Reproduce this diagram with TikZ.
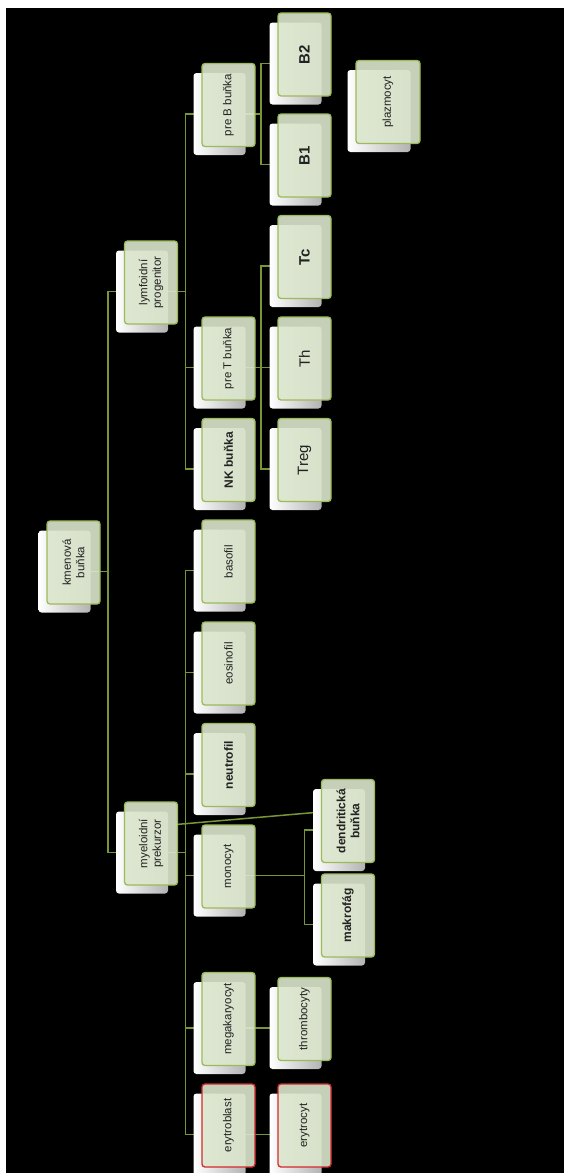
\documentclass[tikz,border=0pt]{standalone}
\usepackage{fontspec}
\setmainfont{Liberation Sans}
\definecolor{cellgreen}{HTML}{9BBB59}
\definecolor{cellfill}{HTML}{DCE6CD}
\definecolor{linkgreen}{HTML}{789636}
\definecolor{bloodred}{HTML}{D22B2B}
\definecolor{ink}{HTML}{222222}
\pgfdeclarelayer{backdrop}
\pgfdeclarelayer{links}
\pgfsetlayers{backdrop,links,main}

\begin{document}
\begin{tikzpicture}[x=1pt,y=-1pt,
 cell/.style 2 args={rounded corners=3pt,minimum width=52pt,minimum height=82pt,inner sep=0pt,
 left color=white,right color=black!30,label={[front,#1]center:#2}},
 front/.style={xshift=9pt,yshift=9pt,rotate=90,draw=cellgreen,line width=1.3pt,
 fill=cellfill,fill opacity=.9,text opacity=1,rounded corners=3pt,
 minimum width=83pt,minimum height=53pt,inner sep=1pt,align=center,text=ink,
 font=\fontsize{11.5}{13.5}\selectfont},
 bold/.style={font=\fontsize{12}{14}\selectfont\bfseries},
 big/.style={font=\fontsize{15}{17}\selectfont},
 bigbold/.style={font=\fontsize{15}{17}\selectfont\bfseries},
 blood/.style={draw=bloodred},
 link/.style={draw=linkgreen,line width=1.2pt}
]
\useasboundingbox (0,0) rectangle (564,1173);
\begin{pgfonlayer}{backdrop}
 \fill[white] (0,0) rectangle (564,1173);
 \fill[black] (6,8) rectangle (564,1173);
\end{pgfonlayer}

% stem cell and the two progenitors
\node[cell={}{kmenová\\buňka}] (root) at (64.5,571.5) {};
\node[cell={}{lymfoidní\\progenitor}] (lymph) at (142,291.5) {};
\node[cell={}{myeloidní\\prekurzor}] (myelo) at (142,852.5) {};

% lymphoid line
\node[cell={}{pre B buňka}] (preB) at (219.5,114) {};
\node[cell={}{pre T buňka}] (preT) at (219.5,367.5) {};
\node[cell={bold}{NK buňka}] (nk) at (219.5,469) {};
\node[cell={bigbold}{B2}] (bTwo) at (295.5,63.5) {};
\node[cell={bigbold}{B1}] (bOne) at (295.5,164.5) {};
\node[cell={bigbold}{Tc}] (tc) at (295.5,266) {};
\node[cell={big}{Th}] (th) at (295.5,367.5) {};
\node[cell={big}{Treg}] (treg) at (295.5,469) {};
\node[cell={minimum height=64pt}{plazmocyt},minimum width=63pt] (plasma) at (379,111) {};

% myeloid line
\node[cell={}{basofil}] (baso) at (219.5,570.5) {};
\node[cell={}{eosinofil}] (eosin) at (219.5,672.5) {};
\node[cell={bold}{neutrofil}] (neutro) at (219.5,774) {};
\node[cell={}{monocyt}] (mono) at (219.5,875.5) {};
\node[cell={minimum width=93pt}{megakaryocyt},minimum height=92pt] (mega) at (219.5,1028) {};
\node[cell={blood}{erytroblast}] (eblast) at (219.5,1134.5) {};
\node[cell={bold}{dendritická\\buňka}] (dendrit) at (339,830) {};
\node[cell={bold}{makrofág}] (makro) at (339,924.5) {};
\node[cell={}{thrombocyty}] (throm) at (295.5,1028) {};
\node[cell={blood}{erytrocyt}] (ecyte) at (295.5,1134.5) {};

% buses
\coordinate (trunk) at (108,0);
\coordinate (mainbus) at (185.6,0);
\coordinate (subbus) at (261,0);
\coordinate (monobus) at (304.5,0);

\begin{pgfonlayer}{links}
 \foreach \c in {lymph,myelo}
  \draw[link] (root.center) -- (root.center -| trunk) |- (\c.center);
 \foreach \c in {preB,preT,nk}
  \draw[link] (lymph.center) -- (lymph.center -| mainbus) |- (\c.center);
 \foreach \c in {baso,eosin,neutro,mono,mega,eblast}
  \draw[link] (myelo.center) -- (myelo.center -| mainbus) |- (\c.center);
 \foreach \c in {bTwo,bOne}
  \draw[link] (preB.center) -- (preB.center -| subbus) |- (\c.center);
 \foreach \c in {tc,th,treg}
  \draw[link] (preT.center) -- (preT.center -| subbus) |- (\c.center);
 \foreach \c in {dendrit,makro}
  \draw[link] (mono.center) -- (mono.center -| monobus) |- (\c.center);
 \draw[link] (mega.center) -- (throm.center);
 \draw[link] (eblast.center) -- (ecyte.center);
 \draw[link,line width=1.5pt] ([shift={(34pt,28pt)}]myelo.center) -- ([shift={(-18.5pt,18pt)}]dendrit.center);
\end{pgfonlayer}
\end{tikzpicture}
\end{document}
